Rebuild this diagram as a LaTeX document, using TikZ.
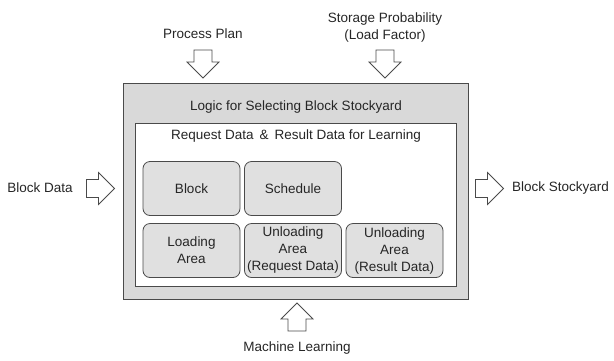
\documentclass[tikz,border=0pt]{standalone}
\usepackage{fontspec}
\setmainfont{Liberation Sans}
\definecolor{stockLine}{HTML}{4A4A4A}
\definecolor{stockPanel}{HTML}{D9D9D9}
\definecolor{stockCell}{HTML}{E0E0E0}
\definecolor{stockText}{HTML}{262626}
\tikzset{
  plainLabel/.style={
    text=stockText,
    font=\fontsize{13.5}{17}\selectfont,
    align=center,
    inner sep=1pt
  },
  panelBox/.style={
    draw=stockLine,
    line width=1.2pt,
    anchor=north west,
    inner sep=0pt
  },
  cellBox/.style={
    draw=stockLine,
    fill=stockCell,
    line width=0.8pt,
    rounded corners=7pt,
    minimum width=97pt,
    minimum height=54pt,
    inner sep=1pt,
    align=center,
    text=stockText,
    font=\fontsize{13.5}{17}\selectfont
  },
  hollowArrow/.pic={
    \draw[draw=stockLine, fill=white, line width=0.8pt, line join=miter]
      (-14,-9) -- (-2,-9) -- (-2,-16) -- (14,0) -- (-2,16) -- (-2,9)
      -- (-14,9) -- cycle;
    \coordinate (-tip) at (14,0);
  }
}

\begin{document}
\begin{tikzpicture}[x=1pt,y=-1pt]
  \useasboundingbox (0,0) rectangle (614,360);
  % frame and data panel
  \node[panelBox, fill=stockPanel, minimum width=345pt, minimum height=216pt]
    (logic) at (123,83) {};
  \node[plainLabel] (logicTitle) at (296,107)
    {Logic for Selecting Block Stockyard};
  \node[panelBox, fill=white, minimum width=321pt, minimum height=163pt]
    (learnData) at (135,123) {};
  \node[plainLabel] (learnTitle) at (296,136)
    {Request Data \,\&\, Result Data for Learning};
  % data cells
  \node[cellBox] (block) at (191.5,188.5) {Block};
  \node[cellBox] (schedule) at (293,188.5) {Schedule};
  \node[cellBox] (loading) at (191.5,250.5) {Loading\\Area};
  \node[cellBox] (unloadReq) at (293,250.5) {Unloading\\Area\\(Request Data)};
  \node[cellBox] (unloadRes) at (394.5,250.5) {Unloading\\Area\\(Result Data)};
  % inputs and output
  \node[plainLabel] (processPlan) at (203,34) {Process Plan};
  \pic[rotate=-90] (processArrow) at (203,64) {hollowArrow};
  \node[plainLabel] (storageProb) at (385,28) {Storage Probability\\(Load Factor)};
  \pic[rotate=-90] (storageArrow) at (385,64) {hollowArrow};
  \node[plainLabel] (blockData) at (40,188) {Block Data};
  \pic (blockDataArrow) at (100.5,188.5) {hollowArrow};
  \pic (stockArrow) at (489.5,188.5) {hollowArrow};
  \node[plainLabel, anchor=west] (stockyard) at (511,188) {Block Stockyard};
  \pic[rotate=90] (mlArrow) at (297,317) {hollowArrow};
  \node[plainLabel] (machineLearning) at (297,348) {Machine Learning};
\end{tikzpicture}
\end{document}
